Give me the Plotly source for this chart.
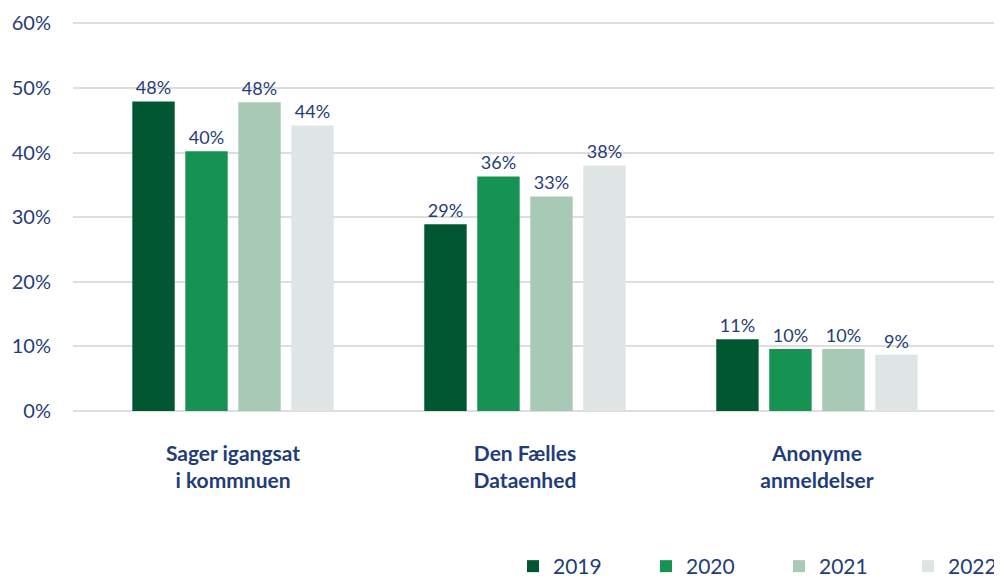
import plotly.graph_objects as go

categories = ["Sager igangsat<br>i kommnuen", "Den Fælles<br>Dataenhed", "Anonyme<br>anmeldelser"]
years = ["2019", "2020", "2021", "2022"]
values = {
    "2019": [47.9, 28.9, 11.1],
    "2020": [40.2, 36.3, 9.6],
    "2021": [47.8, 33.2, 9.6],
    "2022": [44.2, 38.0, 8.7],
}
labels = {
    "2019": ["48%", "29%", "11%"],
    "2020": ["40%", "36%", "10%"],
    "2021": ["48%", "33%", "10%"],
    "2022": ["44%", "38%", "9%"],
}
colors = {"2019": "#005731", "2020": "#169253", "2021": "#a7c9b5", "2022": "#dfe5e4"}
yticks = [0, 10, 20, 30, 40, 50, 60]

TXT = "#1f3d7a"
FONT = "Lato"

x_pos = list(range(len(categories)))
fig = go.Figure()
for y in years:
    fig.add_trace(go.Bar(
        x=x_pos, y=values[y], name=y,
        marker=dict(color=colors[y], line=dict(width=0)),
        text=labels[y], textposition="outside",
        textfont=dict(color=TXT, size=18, family=FONT),
        cliponaxis=False,
        legend="legend2" if y == years[-1] else "legend",
    ))

legend_common = dict(orientation="h", xref="container", yref="container", y=0.0, yanchor="bottom",
                     font=dict(size=21, color=TXT, family=FONT), bgcolor="rgba(0,0,0,0)")

fig.update_layout(
    width=994, height=579,
    margin=dict(l=65, r=2, t=14, b=176, autoexpand=False),
    plot_bgcolor="white", paper_bgcolor="white",
    barmode="group", bargap=0.274, bargroupgap=0.2,
    font=dict(family=FONT, color=TXT),
    showlegend=True,
    legend=dict(x=505 / 994, xanchor="left", entrywidth=88, **legend_common),
    legend2=dict(x=1.0, xanchor="right", **legend_common),
)
fig.update_xaxes(
    range=[-0.548, 2.627], tickvals=x_pos,
    ticktext=["<b>" + c.replace("<br>", "</b><br><b>") + "</b>" for c in categories],
    tickfont=dict(size=21, color=TXT, family=FONT),
    showgrid=False, zeroline=False, showline=False, ticks="", ticklabelstandoff=28,
    automargin=False,
)
fig.update_yaxes(
    range=[0, 60.2], tickvals=yticks, ticktext=[f"{v}%" for v in yticks],
    tickfont=dict(size=20, color=TXT, family=FONT),
    showgrid=True, gridcolor="#dedede", gridwidth=2, zeroline=True, zerolinecolor="#dedede", zerolinewidth=2,
    ticklabelstandoff=21, showline=False, automargin=False,
)
fig.write_html("out.html")
